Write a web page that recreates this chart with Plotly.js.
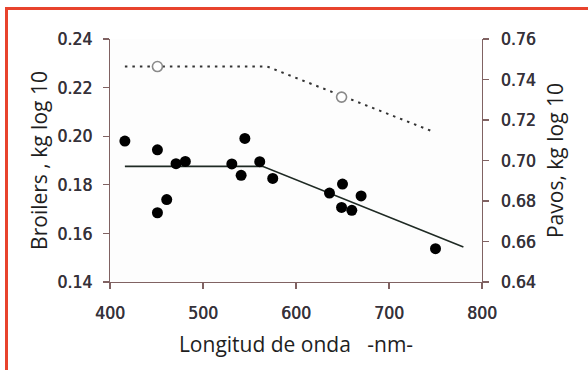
<!DOCTYPE html>
<html>
<head>
<meta charset="utf-8">
<script src="https://cdn.plot.ly/plotly-3.0.1.min.js"></script>
<style>
  html, body { margin: 0; padding: 0; background: #ffffff; }
  #wrap { position: relative; width: 588px; height: 370px; overflow: hidden; }
  #chart { position: absolute; left: 0; top: 0; width: 588px; height: 370px; }
  .redTop { position: absolute; left: 5px; top: 7px; width: 583px; height: 2.5px; background: #e8432d; }
  .redLeft { position: absolute; left: 5px; top: 7px; width: 2.5px; height: 363px; background: #e8432d; }
</style>
</head>
<body>
<div id="wrap">
  <div id="chart"></div>
  <div class="redTop"></div>
  <div class="redLeft"></div>
</div>
<script>
// Broilers (left axis): observed points
const broilerX = [416, 451, 451, 461, 471, 481, 531, 541, 545, 561, 575, 636, 649, 650, 660, 670, 750];
const broilerY = [0.1980, 0.1944, 0.1685, 0.1739, 0.1887, 0.1896, 0.1886, 0.1839, 0.1991, 0.1895, 0.1826, 0.1766, 0.1707, 0.1803, 0.1695, 0.1754, 0.1537];
// Broilers broken-line fit
const broilerFitX = [416, 564, 780];
const broilerFitY = [0.1876, 0.1876, 0.1544];
// Pavos (right axis): observed points
const pavosX = [451, 649];
const pavosY = [0.7464, 0.7313];
// Pavos broken-line fit
const pavosFitX = [416, 569, 745];
const pavosFitY = [0.7464, 0.7464, 0.7147];
// Axis ticks
const xTicks = [400, 500, 600, 700, 800];
const yTicks = [0.14, 0.16, 0.18, 0.20, 0.22, 0.24];
const y2Ticks = [0.64, 0.66, 0.68, 0.70, 0.72, 0.74, 0.76];

const axisColor = '#806262';
const tickFont = { family: '"DejaVu Sans Condensed", "DejaVu Sans", sans-serif', size: 17.5, color: '#36323a',
                   shadow: '0.45px 0 0 #36323a' };
const titleFont = { family: '"Open Sans", "Noto Sans", sans-serif', size: 21, color: '#1e1e1e' };

const traces = [
  { x: broilerFitX, y: broilerFitY, type: 'scatter', mode: 'lines', yaxis: 'y',
    line: { color: '#1f2a24', width: 1.6 }, hoverinfo: 'skip' },
  { x: pavosFitX, y: pavosFitY, type: 'scatter', mode: 'lines', yaxis: 'y2',
    line: { color: '#333333', width: 2, dash: '2.5px,5px' }, hoverinfo: 'skip' },
  { x: broilerX, y: broilerY, type: 'scatter', mode: 'markers', yaxis: 'y', cliponaxis: false,
    marker: { color: '#000000', size: 11 } },
  { x: pavosX, y: pavosY, type: 'scatter', mode: 'markers', yaxis: 'y2', cliponaxis: false,
    marker: { color: '#ffffff', size: 10, line: { color: '#8a8a8a', width: 1.6 } } }
];

const layout = {
  width: 588, height: 370,
  margin: { l: 110, r: 106, t: 39, b: 88, pad: 0 },
  paper_bgcolor: '#ffffff',
  plot_bgcolor: '#fdfdfd',
  showlegend: false,
  xaxis: {
    range: [400, 800], tickvals: xTicks, ticktext: xTicks.map(String),
    showgrid: false, zeroline: false, showline: true, linecolor: axisColor, linewidth: 1.2,
    ticks: 'outside', ticklen: 6, tickcolor: axisColor, tickwidth: 1.2,
    tickfont: tickFont, ticklabelstandoff: 9,
    title: { text: 'Longitud de onda\u00a0\u00a0\u00a0-nm-', font: titleFont, standoff: 15 },
    fixedrange: true
  },
  yaxis: {
    range: [0.14, 0.24], tickvals: yTicks, ticktext: yTicks.map(v => v.toFixed(2)),
    showgrid: false, zeroline: false, showline: true, linecolor: axisColor, linewidth: 1.2,
    ticks: 'outside', ticklen: 6, tickcolor: axisColor, tickwidth: 1.2,
    tickfont: tickFont, ticklabelstandoff: 7,
    title: { text: 'Broilers , kg log 10\u00a0', font: titleFont, standoff: 4 },
    fixedrange: true
  },
  yaxis2: {
    range: [0.64, 0.76], tickvals: y2Ticks, ticktext: y2Ticks.map(v => v.toFixed(2)),
    overlaying: 'y', side: 'right',
    showgrid: false, zeroline: false, showline: true, linecolor: axisColor, linewidth: 1.2,
    ticks: 'outside', ticklen: 6, tickcolor: axisColor, tickwidth: 1.2,
    tickfont: tickFont, ticklabelstandoff: 8,
    title: { text: 'Pavos, kg log 10\u00a0\u00a0\u00a0', font: titleFont, standoff: 13 },
    fixedrange: true
  }
};

Plotly.newPlot('chart', traces, layout, { displayModeBar: false, staticPlot: true });
</script>
</body>
</html>
